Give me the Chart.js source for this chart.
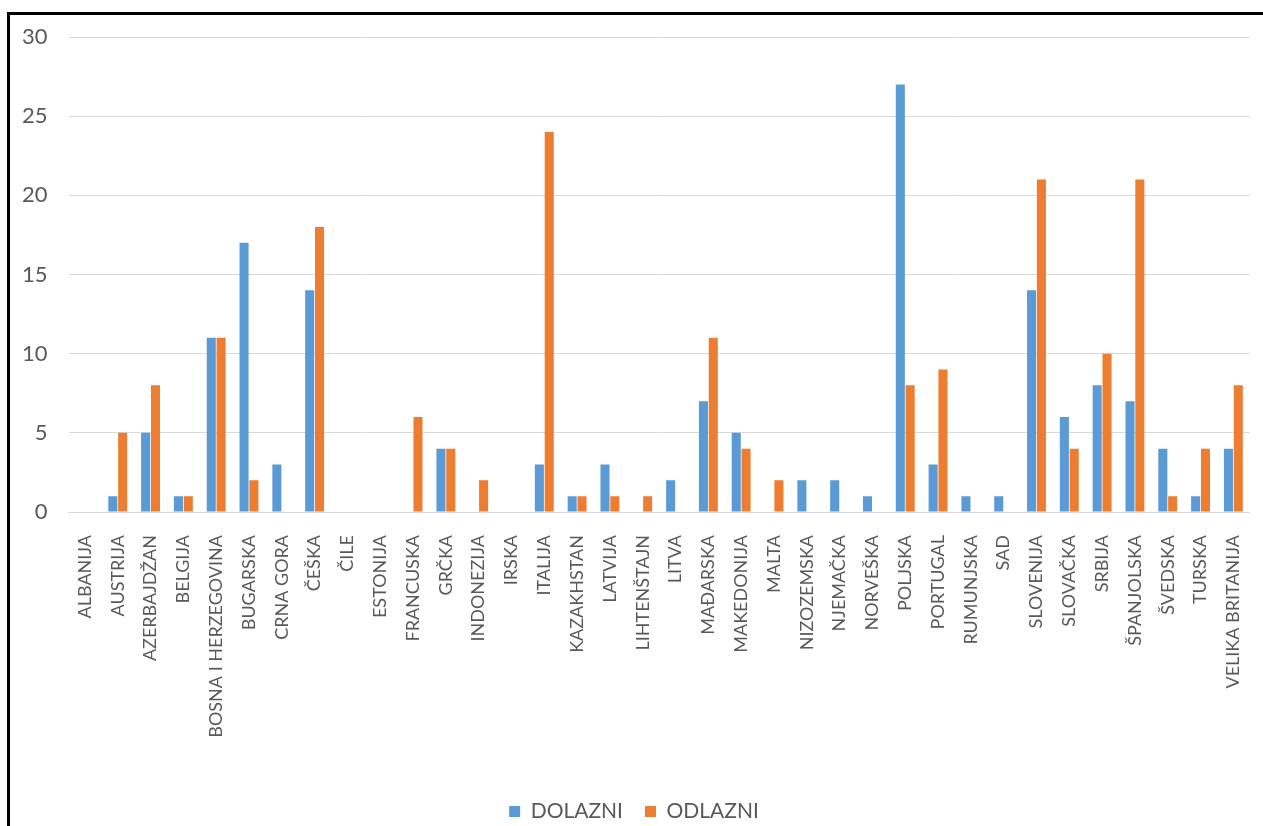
<!DOCTYPE html>
<html>
<head>
<meta charset="utf-8">
<script src="https://cdn.jsdelivr.net/npm/chart.js@4"></script>
<style>
  html, body { margin: 0; padding: 0; background: #fff; overflow: hidden; }
  #frame {
    position: absolute; left: 7px; top: 12px; width: 1300px; height: 900px;
    border-left: 3px solid #000; border-top: 3px solid #000;
  }
  #wrap { position: absolute; left: 0; top: 0; width: 1270px; height: 832px; }
</style>
</head>
<body>
<div id="frame"></div>
<div id="wrap"><canvas id="chart"></canvas></div>
<script>
// countries
let countries = ["ALBANIJA", "AUSTRIJA", "AZERBAJDŽAN", "BELGIJA", "BOSNA I HERZEGOVINA", "BUGARSKA",
    "CRNA GORA", "ČEŠKA", "ČILE", "ESTONIJA", "FRANCUSKA", "GRČKA", "INDONEZIJA", "IRSKA", "ITALIJA",
    "KAZAKHSTAN", "LATVIJA", "LIHTENŠTAJN", "LITVA", "MAĐARSKA", "MAKEDONIJA", "MALTA", "NIZOZEMSKA",
    "NJEMAČKA", "NORVEŠKA", "POLJSKA", "PORTUGAL", "RUMUNJSKA", "SAD", "SLOVENIJA", "SLOVAČKA", "SRBIJA",
    "ŠPANJOLSKA", "ŠVEDSKA", "TURSKA", "VELIKA BRITANIJA"];

let dolazni = [0, 1, 5, 1, 11, 17, 3, 14, 0, 0, 0, 4, 0, 0, 3, 1, 3, 0, 2, 7, 5, 0, 2, 2, 1, 27, 3, 1, 1, 14, 6, 8, 7, 4, 1, 4];
let odlazni = [0, 5, 8, 1, 11, 2, 0, 18, 0, 0, 6, 4, 2, 0, 24, 1, 1, 1, 0, 11, 4, 2, 0, 0, 0, 8, 9, 0, 0, 21, 4, 10, 21, 1, 4, 8];

let yTicks = [0, 5, 10, 15, 20, 25, 30];

let textColor = '#595959';
let fontFam = "Lato, 'Open Sans', sans-serif";

let graph = new Chart(document.getElementById("chart"), {
    type: 'bar',
    data: {
        labels: countries,
        datasets: [{
            label: "DOLAZNI",
            data: dolazni,
            backgroundColor: '#5B9BD5',
            borderWidth: 0,
            categoryPercentage: 0.6,
            barPercentage: 0.92
        }, {
            label: "ODLAZNI",
            data: odlazni,
            backgroundColor: '#ED7D31',
            borderWidth: 0,
            categoryPercentage: 0.6,
            barPercentage: 0.92
        }]
    },
    options: {
        responsive: true,
        maintainAspectRatio: false,
        animation: false,
        layout: { padding: { left: 1, right: 3, top: 37, bottom: 0 } },
        plugins: {
            legend: {
                position: 'bottom',
                labels: {
                    color: textColor,
                    font: { family: fontFam, size: 21 },
                    boxWidth: 11,
                    boxHeight: 11,
                    padding: 22
                }
            },
            tooltip: { enabled: false }
        },
        scales: {
            x: {
                grid: { display: false },
                border: { color: '#D9D9D9' },
                afterFit: (ax) => { ax.height = 267; },
                ticks: {
                    color: textColor,
                    font: { family: fontFam, size: 18 },
                    minRotation: 90,
                    maxRotation: 90,
                    autoSkip: false,
                    padding: 15
                }
            },
            y: {
                min: 0,
                max: 30,
                afterBuildTicks: (ax) => { ax.ticks = yTicks.map(v => ({ value: v })); },
                grid: { color: '#D9D9D9', drawTicks: false },
                border: { display: false },
                ticks: {
                    color: textColor,
                    font: { family: fontFam, size: 22 },
                    padding: 21
                }
            }
        }
    }
});
</script>
</body>
</html>
